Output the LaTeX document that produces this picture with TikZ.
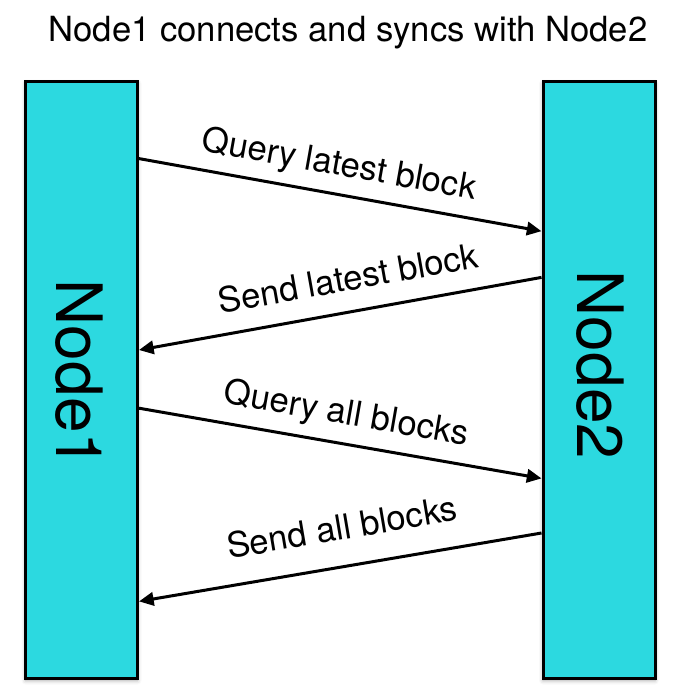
\documentclass[tikz,border=0pt]{standalone}
\usepackage{fontspec}
\setmainfont{TeX Gyre Heros}
\usetikzlibrary{arrows.meta,calc,shadows.blur}
\definecolor{peercyan}{RGB}{44,217,224}
\tikzset{every picture/.style={line width=0.75pt}}
\tikzset{
  peerbox/.style={draw=black, line width=2.25pt, fill=peercyan, inner sep=0pt,
    minimum width=84pt, minimum height=447.75pt,
    blur shadow={shadow xshift=0pt, shadow yshift=-1.5pt, shadow blur radius=3pt, shadow opacity=35}},
  peertext/.style={inner sep=0pt, font=\fontsize{48}{50}\selectfont},
  msg/.style={line width=2.25pt, -{Triangle[length=11pt,width=10pt]}},
  msglabel/.style={inner sep=0pt, font=\fontsize{26}{28}\selectfont}
}

\begin{document}
\begin{tikzpicture}[x=0.75pt,y=0.75pt,yscale=-1,xscale=1]
\useasboundingbox (0,0) rectangle (680,698);

%Shape: Rectangle [Node1]
\node[peerbox] (n1) at (81.5,380) {};
%Shape: Rectangle [Node2]
\node[peerbox] (n2) at (599,380) {};

% Text Node
\node[peertext] (n1text) at (79,374) {\rotatebox{-90}{Node1}};
% Text Node
\node[peertext] (n2text) at (600.5,365) {\rotatebox{-90}{Node2}};
% Text Node
\node[anchor=base, font=\fontsize{26}{28}\selectfont] (title) at (348,42) {Node1 connects and syncs with Node2};

%Straight Lines [query latest]
\draw[msg] ($(n1.north east)!0.131!(n1.south east)$) -- ($(n2.north west)!0.252!(n2.south west)$);
%Straight Lines [send latest]
\draw[msg] ($(n2.north west)!0.329!(n2.south west)$) -- ($(n1.north east)!0.450!(n1.south east)$);
%Straight Lines [query all]
\draw[msg] ($(n1.north east)!0.547!(n1.south east)$) -- ($(n2.north west)!0.664!(n2.south west)$);
%Straight Lines [send all]
\draw[msg] ($(n2.north west)!0.755!(n2.south west)$) -- ($(n1.north east)!0.869!(n1.south east)$);

% Text Node
\node[msglabel] (ql) at (339,166) {\rotatebox[origin=c]{-10.1}{Query latest block}};
% Text Node
\node[msglabel] (sl) at (348,278) {\rotatebox[origin=c]{10.1}{Send latest block}};
% Text Node
\node[msglabel] (qa) at (346,415) {\rotatebox[origin=c]{-9.9}{Query all blocks}};
% Text Node
\node[msglabel] (sa) at (342,527) {\rotatebox[origin=c]{9.6}{Send all blocks}};

\end{tikzpicture}
\end{document}
